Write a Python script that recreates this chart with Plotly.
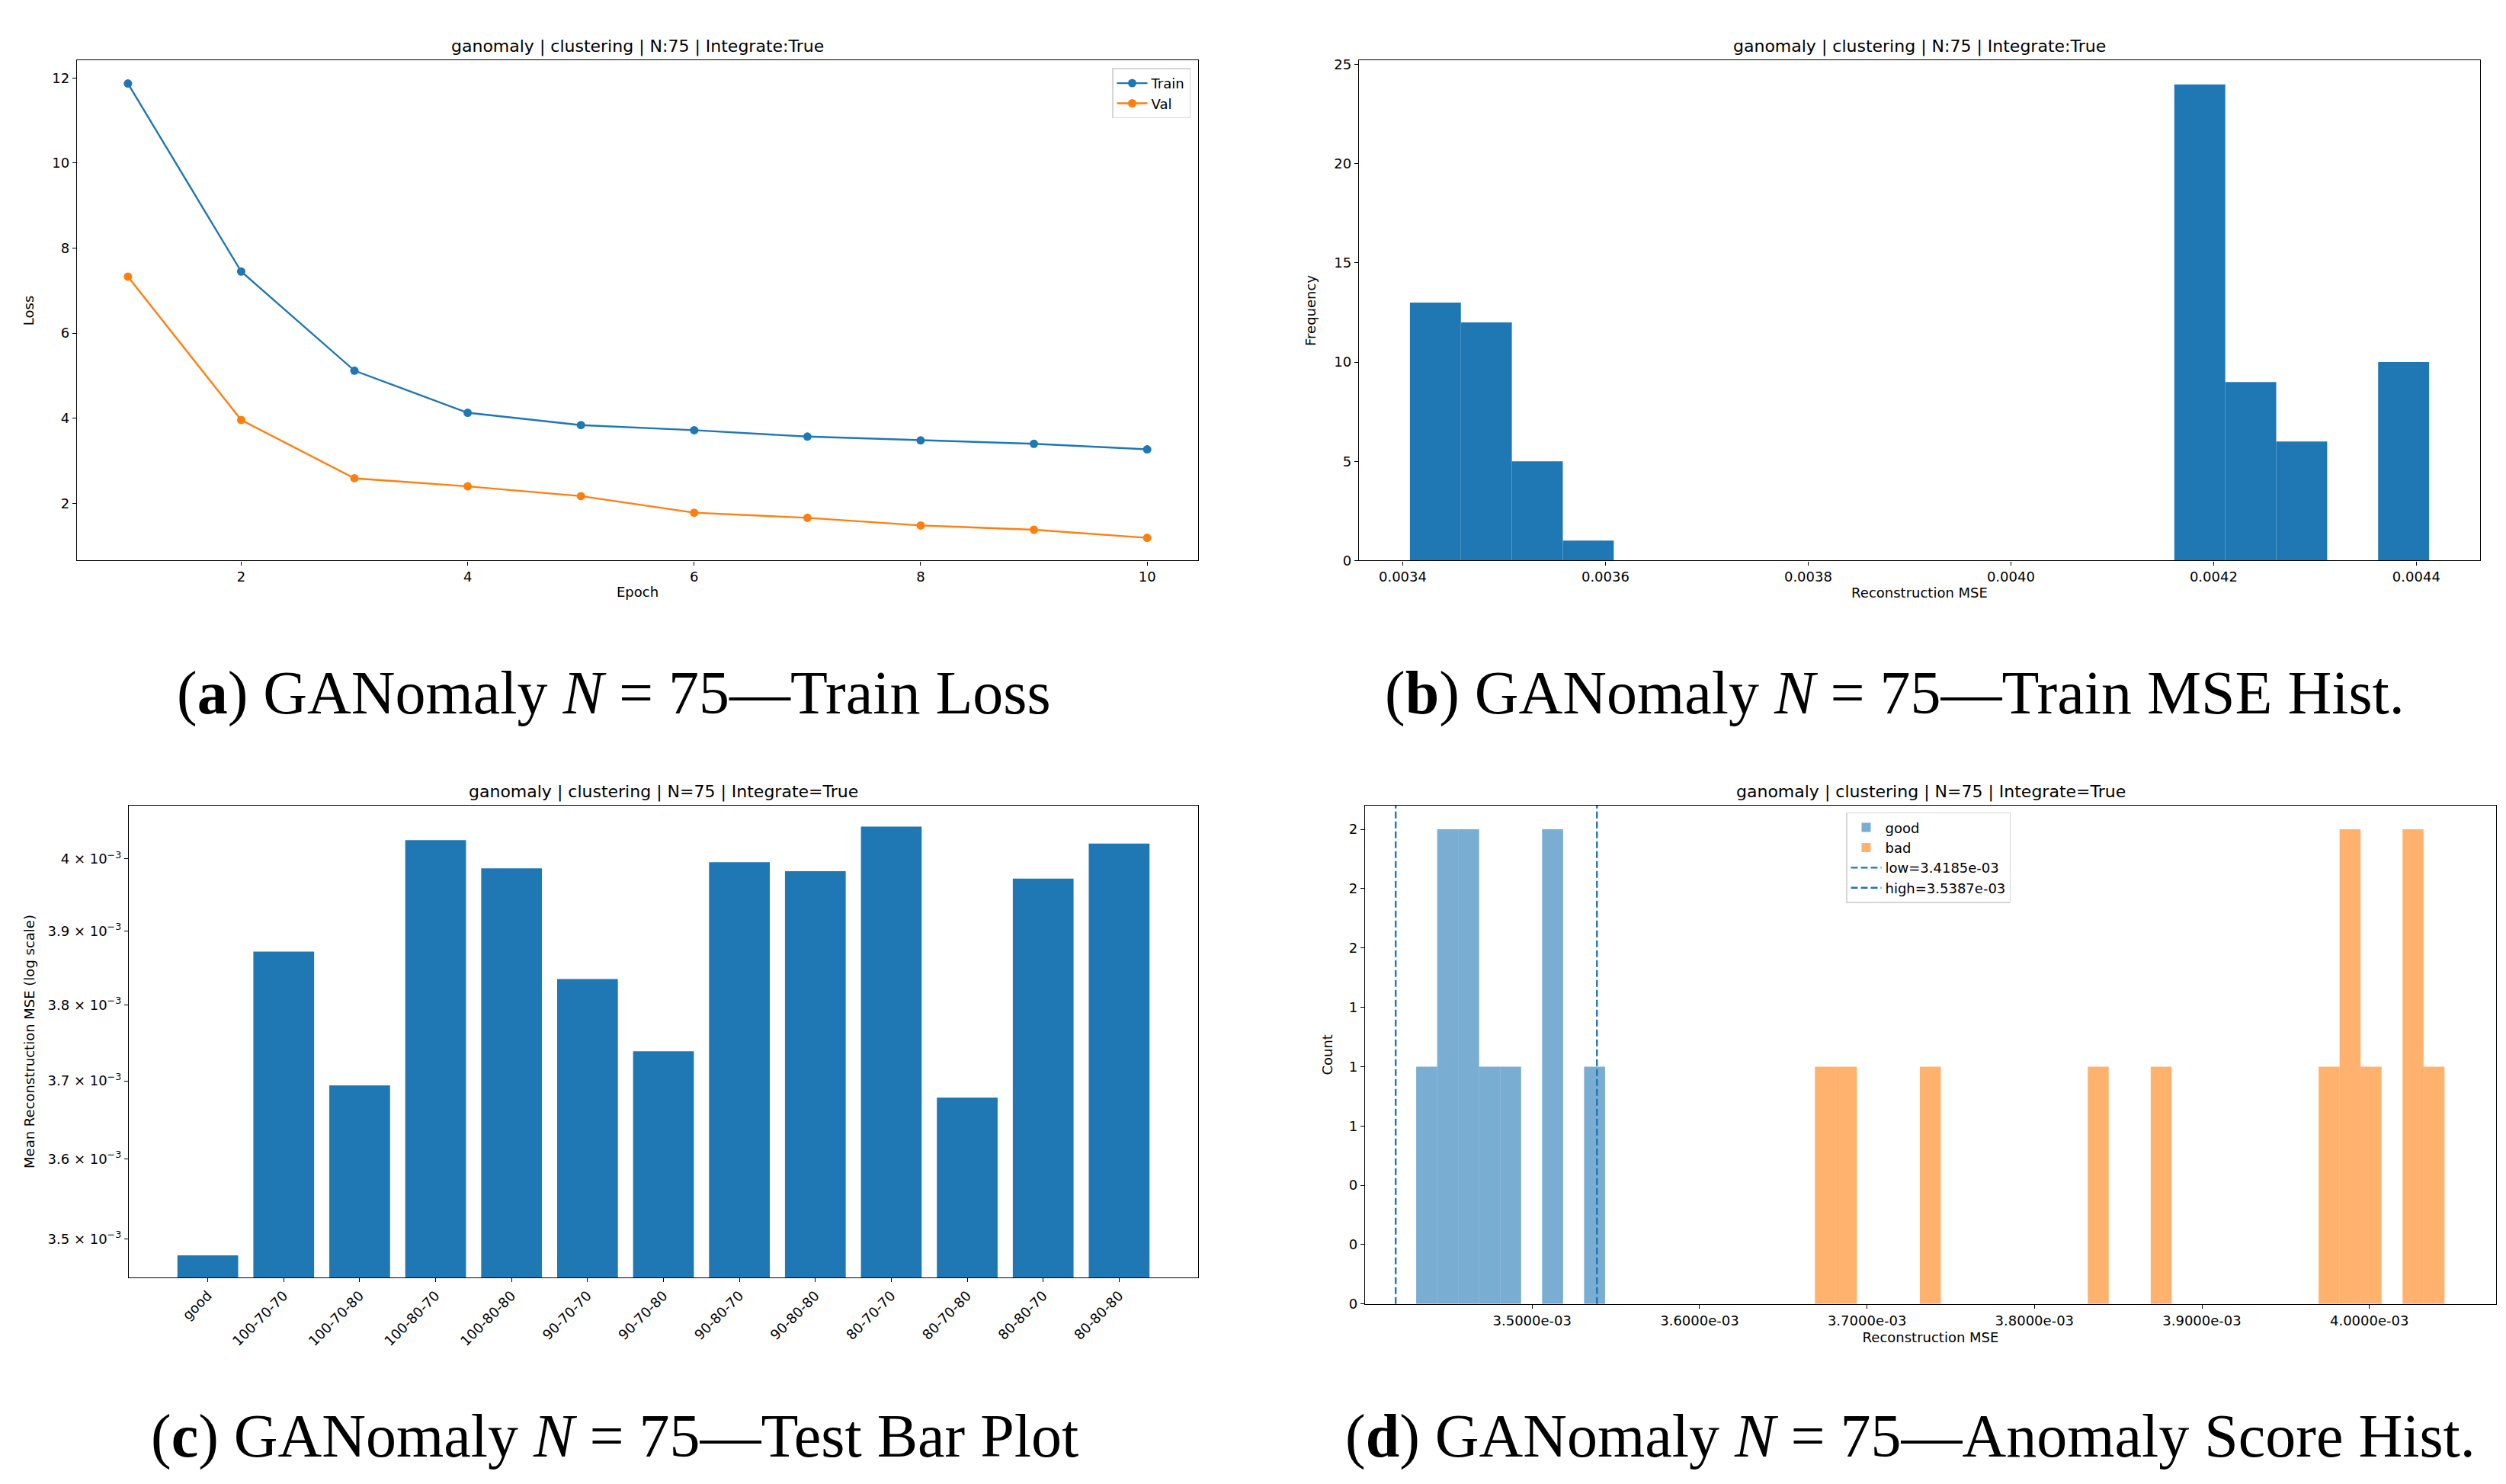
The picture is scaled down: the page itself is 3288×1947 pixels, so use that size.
import plotly.graph_objects as go

W, H = 3288, 1947
BLUE = "#1f77b4"
ORANGE = "#ff7f0e"
SANS = "DejaVu Sans"
SERIF = "Liberation Serif"

# (a) training curves
epochs = [1, 2, 3, 4, 5, 6, 7, 8, 9, 10]
train_loss = [11.87, 7.45, 5.12, 4.13, 3.84, 3.72, 3.57, 3.48, 3.40, 3.27]
val_loss = [7.33, 3.96, 2.59, 2.40, 2.17, 1.78, 1.66, 1.48, 1.38, 1.19]

# (b) train reconstruction MSE histogram (20 bins)
train_bin_start = 0.0034071
train_bin_width = 5.0275e-5
train_counts = [13, 12, 5, 1, 0, 0, 0, 0, 0, 0, 0, 0, 0, 0, 0, 24, 9, 6, 0, 10]

# (c) mean reconstruction MSE per test group
groups = ["good", "100-70-70", "100-70-80", "100-80-70", "100-80-80", "90-70-70",
          "90-70-80", "90-80-70", "90-80-80", "80-70-70", "80-70-80", "80-80-70",
          "80-80-80"]
group_mse = [3.4800e-3, 3.8720e-3, 3.6942e-3, 4.0265e-3, 3.9868e-3, 3.8347e-3,
             3.7388e-3, 3.9954e-3, 3.9829e-3, 4.0457e-3, 3.6784e-3, 3.9724e-3,
             4.0218e-3]
bar_ticks = [3.5e-3, 3.6e-3, 3.7e-3, 3.8e-3, 3.9e-3, 4.0e-3]
bar_tick_text = ["3.5 × 10<sup>−3</sup>", "3.6 × 10<sup>−3</sup>", "3.7 × 10<sup>−3</sup>",
                 "3.8 × 10<sup>−3</sup>", "3.9 × 10<sup>−3</sup>", "4 × 10<sup>−3</sup>"]

# (d) anomaly score histogram (49 shared bins)
score_bin_start = 3.43075e-3
score_bin_width = 1.25337e-5
good_counts = [1, 2, 2, 1, 1, 0, 2, 0, 1] + [0] * 40
bad_counts = ([0] * 19 + [1, 1, 0, 0, 0, 1] + [0] * 7 + [1, 0, 0, 1] + [0] * 7
              + [1, 2, 1, 0, 2, 1])
thr_low = 3.4185e-3
thr_high = 3.5387e-3
score_ticks = [3.5e-3, 3.6e-3, 3.7e-3, 3.8e-3, 3.9e-3, 4.0e-3]
score_tick_text = ["3.5000e-03", "3.6000e-03", "3.7000e-03", "3.8000e-03",
                   "3.9000e-03", "4.0000e-03"]
count_ticks = [0, 0.25, 0.5, 0.75, 1.0, 1.25, 1.5, 1.75, 2.0]
count_tick_text = ["0", "0", "0", "1", "1", "1", "2", "2", "2"]

# panel boxes in pixels: left, right, top, bottom
boxes = {
    "a": (93, 1564, 67, 728),
    "b": (1775, 3246, 67, 728),
    "c": (161, 1564, 1052, 1676),
    "d": (1783, 3267, 1052, 1711),
}


def dom(key):
    l, r, t, b = boxes[key]
    return [l / W, r / W], [1 - b / H, 1 - t / H]


fig = go.Figure()

fig.add_trace(go.Scatter(x=epochs, y=train_loss, mode="lines+markers", name="Train",
                         line=dict(color=BLUE, width=2.4), marker=dict(size=11),
                         xaxis="x", yaxis="y", legend="legend"))
fig.add_trace(go.Scatter(x=epochs, y=val_loss, mode="lines+markers", name="Val",
                         line=dict(color=ORANGE, width=2.4), marker=dict(size=11),
                         xaxis="x", yaxis="y", legend="legend"))

train_centers = [train_bin_start + (i + 0.5) * train_bin_width for i in range(len(train_counts))]
fig.add_trace(go.Bar(x=train_centers, y=train_counts, width=train_bin_width,
                     marker=dict(color=BLUE, line=dict(width=0)), showlegend=False,
                     xaxis="x2", yaxis="y2"))

fig.add_trace(go.Bar(x=groups, y=group_mse, width=0.8,
                     marker=dict(color=BLUE, line=dict(width=0)), showlegend=False,
                     xaxis="x3", yaxis="y3"))

score_centers = [score_bin_start + (i + 0.5) * score_bin_width for i in range(len(good_counts))]
fig.add_trace(go.Bar(x=score_centers, y=good_counts, width=score_bin_width, name="good",
                     marker=dict(color="rgba(31,119,180,0.6)", line=dict(width=0)),
                     xaxis="x4", yaxis="y4", legend="legend2"))
fig.add_trace(go.Bar(x=score_centers, y=bad_counts, width=score_bin_width, name="bad",
                     marker=dict(color="rgba(255,127,14,0.6)", line=dict(width=0)),
                     xaxis="x4", yaxis="y4", legend="legend2"))

for val, label in [(thr_low, "low=3.4185e-03"), (thr_high, "high=3.5387e-03")]:
    fig.add_shape(type="line", x0=val, x1=val, y0=0, y1=1, xref="x4", yref="y4 domain",
                  line=dict(color=BLUE, width=2.4, dash="9px,4px"),
                  showlegend=True, name=label, legend="legend2")

tick_font = dict(family=SANS, size=18, color="black")
axis_common = dict(showline=True, mirror=True, linecolor="black", linewidth=1.4,
                   ticks="outside", ticklen=5, tickwidth=1.4, tickcolor="black",
                   showgrid=False, zeroline=False, tickfont=tick_font)
title_font = dict(family=SANS, size=18, color="black")
legend_common = dict(bgcolor="rgba(255,255,255,0.8)", bordercolor="#d6d6d6", borderwidth=1.5,
                     font=dict(family=SANS, size=18, color="black"), tracegroupgap=0,
                     itemwidth=40)

xa, ya = dom("a")
xb, yb = dom("b")
xc, yc = dom("c")
xd, yd = dom("d")

fig.update_layout(
    width=W, height=H,
    margin=dict(l=0, r=0, t=0, b=0),
    paper_bgcolor="white", plot_bgcolor="white",
    barmode="overlay",
    xaxis=dict(domain=xa, anchor="y", range=[0.55, 10.45], tickvals=[2, 4, 6, 8, 10],
               title=dict(text="Epoch", font=title_font, standoff=4), **axis_common),
    yaxis=dict(domain=ya, anchor="x", range=[0.656, 12.41], tickvals=[2, 4, 6, 8, 10, 12],
               title=dict(text="Loss", font=title_font, standoff=18), **axis_common),
    xaxis2=dict(domain=xb, anchor="y2", range=[0.0033568, 0.0044629],
                tickvals=[0.0034, 0.0036, 0.0038, 0.0040, 0.0042, 0.0044], tickformat=".4f",
                title=dict(text="Reconstruction MSE", font=title_font, standoff=4), **axis_common),
    yaxis2=dict(domain=yb, anchor="x2", range=[0, 25.2], tickvals=[0, 5, 10, 15, 20, 25],
                title=dict(text="Frequency", font=title_font, standoff=18), **axis_common),
    xaxis3=dict(domain=xc, anchor="y3", range=[-1.04, len(groups) - 1 + 1.04],
                tickangle=-45, **axis_common),
    yaxis3=dict(domain=yc, anchor="x3", type="log",
                range=[-2.46179, -2.38979], tickvals=bar_ticks, ticktext=bar_tick_text,
                title=dict(text="Mean Reconstruction MSE (log scale)", font=title_font,
                           standoff=12), **axis_common),
    xaxis4=dict(domain=xd, anchor="y4", range=[3.4002e-3, 4.0757e-3],
                tickvals=score_ticks, ticktext=score_tick_text,
                title=dict(text="Reconstruction MSE", font=title_font, standoff=6), **axis_common),
    yaxis4=dict(domain=yd, anchor="x4", range=[0, 2.1], tickvals=count_ticks,
                ticktext=count_tick_text,
                title=dict(text="Count", font=title_font, standoff=16), **axis_common),
    legend=dict(x=1554 / W, y=1 - 77 / H, xanchor="right", yanchor="top", **legend_common),
    legend2=dict(x=2414 / W, y=1 - 1061 / H, xanchor="left", yanchor="top", **legend_common),
)

titles = {
    "a": "ganomaly | clustering | N:75 | Integrate:True",
    "b": "ganomaly | clustering | N:75 | Integrate:True",
    "c": "ganomaly | clustering | N=75 | Integrate=True",
    "d": "ganomaly | clustering | N=75 | Integrate=True",
}
for key, text in titles.items():
    l, r, t, b = boxes[key]
    fig.add_annotation(text=text, x=(l + r) / 2 / W, y=1 - t / H, xref="paper", yref="paper",
                       xanchor="center", yanchor="bottom", yshift=3, showarrow=False,
                       font=dict(family=SANS, size=22, color="black"))

captions = [
    ("(<b>a</b>) GANomaly <i>N</i> = 75—Train Loss", 797, 903),
    ("(<b>b</b>) GANomaly <i>N</i> = 75—Train MSE Hist.", 2478, 903),
    ("(<b>c</b>) GANomaly <i>N</i> = 75—Test Bar Plot", 798, 1886),
    ("(<b>d</b>) GANomaly <i>N</i> = 75—Anomaly Score Hist.", 2498, 1886),
]
for text, cx, cy in captions:
    fig.add_annotation(text=text, x=cx / W, y=1 - cy / H, xref="paper", yref="paper",
                       xanchor="center", yanchor="middle", showarrow=False,
                       font=dict(family=SERIF, size=80, color="black"))

fig.write_html("out.html")
